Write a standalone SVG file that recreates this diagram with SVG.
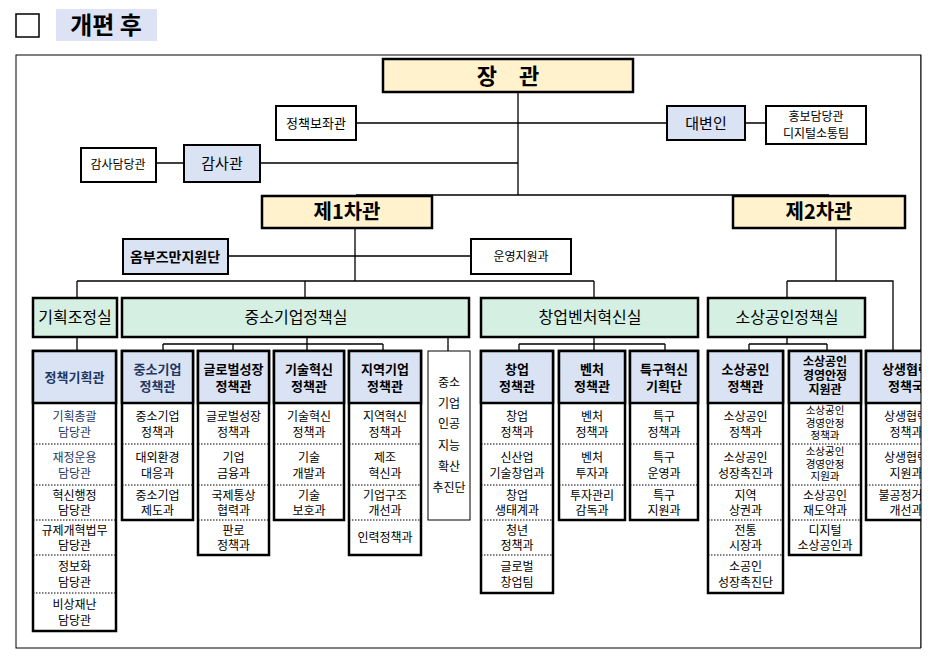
<svg xmlns="http://www.w3.org/2000/svg" width="945" height="661" viewBox="0 0 945 661">
<style>
text{font-family:"Noto Sans CJK KR","Noto Sans",sans-serif;text-anchor:middle;fill:#000}
.t{font-size:12px}.h{font-size:13px;font-weight:bold}
.s{font-size:10.5px}.hs{font-size:12px;font-weight:bold}
.y{fill:#fff2cc;stroke:#000;stroke-width:2.5}
.g{fill:#d5f0e3;stroke:#000;stroke-width:2.5}
.b{fill:#dae3f3;stroke:#000;stroke-width:2}
.w{fill:#fff;stroke:#000;stroke-width:2}
.col{fill:#fff;stroke:#000;stroke-width:2.5}
.hd{fill:#dae3f3;stroke:#000;stroke-width:2.5}
.sep{stroke:#000;stroke-width:1;stroke-dasharray:1.5 1.5}
.c{stroke:#000;stroke-width:1.3;fill:none}
.n{fill:#1f3864}
</style>
<defs><clipPath id="cl"><rect x="0" y="0" width="921" height="661"/></clipPath></defs>
<rect width="945" height="661" fill="#fff"/>
<rect x="16" y="14" width="23" height="23" fill="#fff" stroke="#000" stroke-width="1.5"/>
<rect x="56" y="9" width="101" height="32" fill="#dde3f5"/>
<text x="106" y="34" style="font-size:24px;font-weight:bold">개편 후</text>
<rect x="16" y="55" width="905" height="593" fill="none" stroke="#000" stroke-width="1"/>
<g id="connectors" class="c">
<path d="M518 92V195M356 123H667M745 123H766M260 163H518M156 163H184M356 195H829M355 195V196M829 195V196"/>
<path d="M355 228V281M228 256H471M77 281H594M77 281V298M305 281V298M594 281V298"/>
<path d="M836 228V281M787 281H893V351M787 281V298"/>
<path d="M77 337V351M163 344H383M163 344V351M233 344V351M307 337V351M383 344V351M448 337V351"/>
<path d="M519 344H665M519 344V351M594 337V351M665 344V351M749 344H827M749 344V351M787 337V344M827 344V351"/>
</g>
<g id="n-jangwan"><rect class="y" x="383" y="59" width="250" height="33"/><text x="508" y="84" style="font-size:22px;font-weight:bold">장　관</text></g>
<g id="n-bojwa"><rect class="w" x="276" y="106" width="80" height="34"/><text class="t" x="316" y="128" style="font-size:13px">정책보좌관</text></g>
<g id="n-daebyeon"><rect class="b" x="667" y="106" width="78" height="34"/><text x="706" y="129" style="font-size:15px">대변인</text></g>
<g id="n-hongbo"><rect class="w" x="766" y="106" width="100" height="38"/><text class="t" x="816" y="121">홍보담당관</text><text class="t" x="816" y="138">디지털소통팀</text></g>
<g id="n-gamsadam"><rect class="w" x="81" y="148" width="75" height="34"/><text class="t" x="118" y="169">감사담당관</text></g>
<g id="n-gamsa"><rect class="b" x="184" y="145" width="76" height="37"/><text x="222" y="169" style="font-size:15px">감사관</text></g>
<g id="n-cha1"><rect class="y" x="262" y="196" width="170" height="32"/><text x="347" y="219" style="font-size:20px;font-weight:bold">제1차관</text></g>
<g id="n-cha2"><rect class="y" x="733" y="196" width="172" height="32"/><text x="819" y="219" style="font-size:20px;font-weight:bold">제2차관</text></g>
<g id="n-ombuds"><rect class="b" x="123" y="239" width="105" height="35"/><text x="175" y="262" style="font-size:14px;font-weight:bold">옴부즈만지원단</text></g>
<g id="n-unyeong"><rect class="w" x="471" y="239" width="100" height="35"/><text class="t" x="521" y="261">운영지원과</text></g>
<g id="n-gihoek"><rect class="g" x="33" y="298" width="84" height="39"/><text x="75" y="323" style="font-size:16px">기획조정실</text></g>
<g id="n-jungso"><rect class="g" x="122" y="298" width="347" height="39"/><text x="296" y="323" style="font-size:16px">중소기업정책실</text></g>
<g id="n-changup"><rect class="g" x="481" y="298" width="217" height="39"/><text x="590" y="323" style="font-size:16px">창업벤처혁신실</text></g>
<g id="n-sosang"><rect class="g" x="708" y="298" width="157" height="39"/><text x="787" y="323" style="font-size:16px">소상공인정책실</text></g>

<g id="c-A"><rect class="col" x="33" y="351" width="83" height="280"/><rect class="hd" x="33" y="351" width="83" height="52"/>
<text class="h n" x="74.5" y="382">정책기획관</text>
<path class="sep" d="M33 444H116M33 485H116M33 520H116M33 555H116M33 593H116"/>
<text class="t n" x="74.5" y="421">기획총괄</text><text class="t n" x="74.5" y="437">담당관</text>
<text class="t n" x="74.5" y="462">재정운용</text><text class="t n" x="74.5" y="478">담당관</text>
<text class="t" x="74.5" y="500">혁신행정</text><text class="t" x="74.5" y="515">담당관</text>
<text class="t" x="74.5" y="535">규제개혁법무</text><text class="t" x="74.5" y="550">담당관</text>
<text class="t" x="74.5" y="571">정보화</text><text class="t" x="74.5" y="587">담당관</text>
<text class="t" x="74.5" y="609">비상재난</text><text class="t" x="74.5" y="625">담당관</text></g>

<g id="c-B"><rect class="col" x="122" y="351" width="71" height="169"/><rect class="hd" x="122" y="351" width="71" height="52"/>
<text class="h n" x="157.5" y="374">중소기업</text><text class="h n" x="157.5" y="391">정책관</text>
<path class="sep" d="M122 444H193M122 485H193"/>
<text class="t" x="157.5" y="421">중소기업</text><text class="t" x="157.5" y="437">정책과</text>
<text class="t" x="157.5" y="462">대외환경</text><text class="t" x="157.5" y="478">대응과</text>
<text class="t" x="157.5" y="500">중소기업</text><text class="t" x="157.5" y="515">제도과</text></g>

<g id="c-C"><rect class="col" x="198" y="351" width="71" height="204"/><rect class="hd" x="198" y="351" width="71" height="52"/>
<text class="h" x="233.5" y="374">글로벌성장</text><text class="h" x="233.5" y="391">정책관</text>
<path class="sep" d="M198 444H269M198 485H269M198 520H269"/>
<text class="t" x="233.5" y="421">글로벌성장</text><text class="t" x="233.5" y="437">정책과</text>
<text class="t" x="233.5" y="462">기업</text><text class="t" x="233.5" y="478">금융과</text>
<text class="t" x="233.5" y="500">국제통상</text><text class="t" x="233.5" y="515">협력과</text>
<text class="t" x="233.5" y="535">판로</text><text class="t" x="233.5" y="550">정책과</text></g>

<g id="c-D"><rect class="col" x="274" y="351" width="70" height="169"/><rect class="hd" x="274" y="351" width="70" height="52"/>
<text class="h" x="309" y="374">기술혁신</text><text class="h" x="309" y="391">정책관</text>
<path class="sep" d="M274 444H344M274 485H344"/>
<text class="t" x="309" y="421">기술혁신</text><text class="t" x="309" y="437">정책과</text>
<text class="t" x="309" y="462">기술</text><text class="t" x="309" y="478">개발과</text>
<text class="t" x="309" y="500">기술</text><text class="t" x="309" y="515">보호과</text></g>

<g id="c-E"><rect class="col" x="349" y="351" width="72" height="204"/><rect class="hd" x="349" y="351" width="72" height="52"/>
<text class="h" x="385" y="374">지역기업</text><text class="h" x="385" y="391">정책관</text>
<path class="sep" d="M349 444H421M349 485H421M349 520H421"/>
<text class="t" x="385" y="421">지역혁신</text><text class="t" x="385" y="437">정책과</text>
<text class="t" x="385" y="462">제조</text><text class="t" x="385" y="478">혁신과</text>
<text class="t" x="385" y="500">기업구조</text><text class="t" x="385" y="515">개선과</text>
<text class="t" x="385" y="542">인력정책과</text></g>

<g id="c-F"><rect x="428" y="351" width="42" height="169" fill="#fff" stroke="#000" stroke-width="1"/>
<text class="t" x="449" y="387">중소</text><text class="t" x="449" y="408">기업</text><text class="t" x="449" y="428">인공</text><text class="t" x="449" y="450">지능</text><text class="t" x="449" y="471">확산</text><text class="t" x="449" y="492">추진단</text></g>

<g id="c-G"><rect class="col" x="481" y="351" width="72" height="242"/><rect class="hd" x="481" y="351" width="72" height="52"/>
<text class="h" x="517" y="374">창업</text><text class="h" x="517" y="391">정책관</text>
<path class="sep" d="M481 444H553M481 485H553M481 520H553M481 555H553"/>
<text class="t" x="517" y="421">창업</text><text class="t" x="517" y="437">정책과</text>
<text class="t" x="517" y="462">신산업</text><text class="t" x="517" y="478">기술창업과</text>
<text class="t" x="517" y="500">창업</text><text class="t" x="517" y="515">생태계과</text>
<text class="t" x="517" y="535">청년</text><text class="t" x="517" y="550">정책과</text>
<text class="t" x="517" y="571">글로벌</text><text class="t" x="517" y="587">창업팀</text></g>

<g id="c-H"><rect class="col" x="559" y="351" width="66" height="169"/><rect class="hd" x="559" y="351" width="66" height="52"/>
<text class="h" x="592" y="374">벤처</text><text class="h" x="592" y="391">정책관</text>
<path class="sep" d="M559 444H625M559 485H625"/>
<text class="t" x="592" y="421">벤처</text><text class="t" x="592" y="437">정책과</text>
<text class="t" x="592" y="462">벤처</text><text class="t" x="592" y="478">투자과</text>
<text class="t" x="592" y="500">투자관리</text><text class="t" x="592" y="515">감독과</text></g>

<g id="c-I"><rect class="col" x="630" y="351" width="68" height="169"/><rect class="hd" x="630" y="351" width="68" height="52"/>
<text class="h" x="664" y="374">특구혁신</text><text class="h" x="664" y="391">기획단</text>
<path class="sep" d="M630 444H698M630 485H698"/>
<text class="t" x="664" y="421">특구</text><text class="t" x="664" y="437">정책과</text>
<text class="t" x="664" y="462">특구</text><text class="t" x="664" y="478">운영과</text>
<text class="t" x="664" y="500">특구</text><text class="t" x="664" y="515">지원과</text></g>

<g id="c-J"><rect class="col" x="708" y="351" width="75" height="242"/><rect class="hd" x="708" y="351" width="75" height="52"/>
<text class="h" x="745.5" y="374">소상공인</text><text class="h" x="745.5" y="391">정책관</text>
<path class="sep" d="M708 444H783M708 485H783M708 520H783M708 555H783"/>
<text class="t" x="745.5" y="421">소상공인</text><text class="t" x="745.5" y="437">정책과</text>
<text class="t" x="745.5" y="462">소상공인</text><text class="t" x="745.5" y="478">성장촉진과</text>
<text class="t" x="745.5" y="500">지역</text><text class="t" x="745.5" y="515">상권과</text>
<text class="t" x="745.5" y="535">전통</text><text class="t" x="745.5" y="550">시장과</text>
<text class="t" x="745.5" y="571">소공인</text><text class="t" x="745.5" y="587">성장촉진단</text></g>

<g id="c-K"><rect class="col" x="789" y="351" width="72" height="204"/><rect class="hd" x="789" y="351" width="72" height="52"/>
<text class="hs" x="825" y="366">소상공인</text><text class="hs" x="825" y="380">경영안정</text><text class="hs" x="825" y="394">지원관</text>
<path class="sep" d="M789 444H861M789 485H861M789 520H861"/>
<text class="s" x="825" y="414">소상공인</text><text class="s" x="825" y="426.5">경영안정</text><text class="s" x="825" y="439">정책과</text>
<text class="s" x="825" y="455">소상공인</text><text class="s" x="825" y="467.5">경영안정</text><text class="s" x="825" y="480">지원과</text>
<text class="t" x="825" y="500">소상공인</text><text class="t" x="825" y="515">재도약과</text>
<text class="t" x="825" y="535">디지털</text><text class="t" x="825" y="550">소상공인과</text></g>

<g id="c-L" clip-path="url(#cl)"><rect class="col" x="866" y="351" width="80" height="169"/><rect class="hd" x="866" y="351" width="80" height="52"/>
<text class="h" x="906" y="374">상생협력</text><text class="h" x="906" y="391">정책국</text>
<path class="sep" d="M866 444H946M866 485H946"/>
<text class="t" x="906" y="421">상생협력</text><text class="t" x="906" y="437">정책과</text>
<text class="t" x="906" y="462">상생협력</text><text class="t" x="906" y="478">지원과</text>
<text class="t" x="906" y="500">불공정거래</text><text class="t" x="906" y="515">개선과</text></g>
<rect x="921" y="55" width="24" height="606" fill="#fff"/>
<path d="M921 55V648" stroke="#000" stroke-width="1"/>
</svg>
